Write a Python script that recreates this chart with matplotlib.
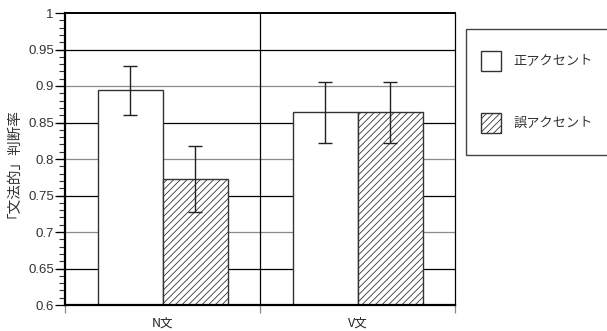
import matplotlib
matplotlib.use("Agg")
import matplotlib.pyplot as plt
import matplotlib.ticker as mticker
from matplotlib.patches import Rectangle

plt.rcParams['font.family'] = ['Liberation Sans', 'Noto Sans CJK JP', 'DejaVu Sans']
plt.rcParams['hatch.linewidth'] = 0.6
plt.rcParams['hatch.color'] = '#7a7a7a'

# ── data ─────────────────────────────────────────────────────────────
categories = ["N文", "V文"]
series_names = ["正アクセント", "誤アクセント"]
correct_vals = [0.894, 0.864]
correct_lo = [0.860, 0.822]
correct_hi = [0.927, 0.906]
wrong_vals = [0.773, 0.864]
wrong_lo = [0.727, 0.822]
wrong_hi = [0.818, 0.906]
y_label = "「文法的」判断率"
y_ticks = [0.6, 0.65, 0.7, 0.75, 0.8, 0.85, 0.9, 0.95, 1.0]
y_ticklabels = ["0.6", "0.65", "0.7", "0.75", "0.8", "0.85", "0.9", "0.95", "1"]

W, H = 607, 331
JP = ['Noto Sans CJK JP', 'DejaVu Sans']
HATCH = "/////"

fig = plt.figure(figsize=(W / 100, H / 100), dpi=100)
ax = fig.add_axes([65 / W, 1 - 305 / H, 390 / W, 292 / H])

# grid lines, alternating black / gray
for i, t in enumerate(y_ticks[1:-1]):
    col = "black" if i % 2 == 0 else "#8a8a8a"
    ax.axhline(t, color=col, linewidth=0.9, zorder=0)
    ax.plot([-0.035, 0], [t, t], color=col, linewidth=0.9,
            clip_on=False, zorder=0)
ax.axvline(1, color="black", linewidth=0.9, zorder=0)

bw = 1 / 3
xs = [0.5, 1.5]
ax.bar([x - bw / 2 for x in xs], correct_vals, width=bw, bottom=0,
       color="white", edgecolor="#333333", linewidth=1.0, zorder=2)
ax.bar([x + bw / 2 for x in xs], wrong_vals, width=bw, bottom=0,
       color="white", edgecolor="#333333", linewidth=1.0, hatch=HATCH,
       zorder=2)

def err(xpos, vals, lo, hi):
    ax.errorbar(xpos, vals,
                yerr=[[v - l for v, l in zip(vals, lo)],
                      [h - v for v, h in zip(vals, hi)]],
                fmt="none", ecolor="#222222", elinewidth=1.0,
                capsize=5, capthick=1.0, zorder=3)

err([x - bw / 2 for x in xs], correct_vals, correct_lo, correct_hi)
err([x + bw / 2 for x in xs], wrong_vals, wrong_lo, wrong_hi)

ax.set_xlim(0, 2)
ax.set_ylim(0.6, 1.0)
ax.set_yticks(y_ticks)
ax.set_yticklabels(y_ticklabels)
ax.yaxis.set_minor_locator(mticker.MultipleLocator(0.01))
ax.tick_params(axis="y", which="major", length=7, width=0.9,
               color="black", labelsize=9.5, labelcolor="#333333", pad=1)
ax.tick_params(axis="y", which="minor", length=4, width=0.8, color="#333333")

ax.set_xticks([0, 1, 2])
ax.set_xticklabels([])
ax.set_xticks(xs, minor=True)
ax.set_xticklabels(categories, minor=True)
ax.tick_params(axis="x", which="major", length=6, width=0.9, color="#888888")
ax.tick_params(axis="x", which="minor", length=0, labelsize=9,
               labelcolor="#222222", pad=8)
for lab in ax.get_xticklabels(minor=True):
    lab.set_family(JP)

ax.set_ylabel(y_label, fontsize=10.5, color="#333333", family=JP)
ax.yaxis.set_label_coords(-0.133, 0.5)

ax.spines["left"].set_linewidth(1.6)
ax.spines["bottom"].set_linewidth(1.6)
ax.spines["top"].set_linewidth(1.4)
ax.spines["right"].set_linewidth(0.9)

# legend box
fig.patches.append(Rectangle((466 / W, 1 - 155 / H), 150 / W, 126 / H,
                             transform=fig.transFigure, facecolor="white",
                             edgecolor="#444444", linewidth=1.0))
for j, (name, hatch) in enumerate(zip(series_names, ["", HATCH])):
    cy = 61 + j * 62.5
    fig.patches.append(Rectangle((481 / W, 1 - (cy + 10) / H), 20 / W, 20 / H,
                                 transform=fig.transFigure, facecolor="white",
                                 edgecolor="#333333", linewidth=1.0,
                                 hatch=hatch))
    fig.text(513 / W, 1 - cy / H, name, fontsize=9.5, va="center",
             ha="left", color="#333333", family=JP)

fig.savefig("out.png", dpi=100)
